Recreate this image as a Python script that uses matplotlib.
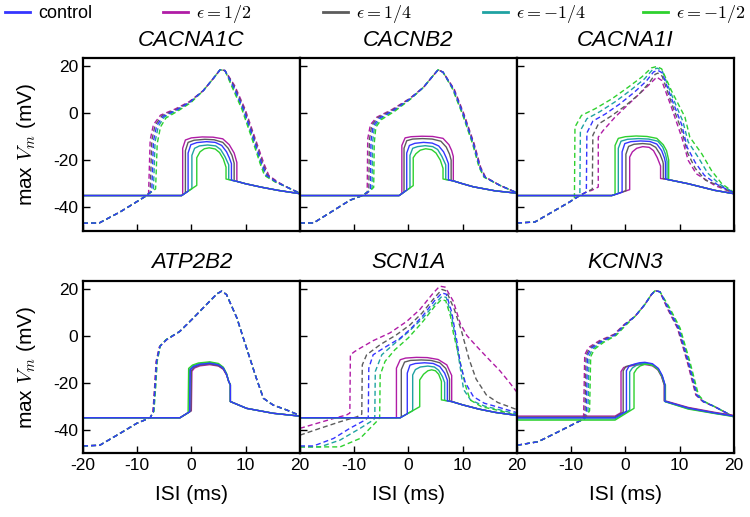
import numpy as np
import matplotlib.pyplot as plt

plt.rcParams['font.family'] = ['Liberation Sans', 'DejaVu Sans']
plt.rcParams['mathtext.fontset'] = 'cm'
plt.rcParams['axes.unicode_minus'] = False

# curve keys: control, eps=1/2, eps=1/4, eps=-1/4, eps=-1/2
keys = ['p12', 'p14', 'm14', 'm12', 'control']
colors = {'control': '#3535ff', 'p12': '#b01ca6', 'p14': '#5c5c5c',
          'm14': '#1fa2a2', 'm12': '#2ed12e'}
legend_labels = {'control': 'control', 'p12': r'$\epsilon=1/2$', 'p14': r'$\epsilon=1/4$',
                 'm14': r'$\epsilon=-1/4$', 'm12': r'$\epsilon=-1/2$'}
legend_order = ['control', 'p12', 'p14', 'm14', 'm12']

genes = ['CACNA1C', 'CACNB2', 'CACNA1I', 'ATP2B2', 'SCN1A', 'KCNN3']
xticks = [-20, -10, 0, 10, 20]
yticks = [-40, -20, 0, 20]

# ---- CACNA1C ----
cacna1c_solid = {
    'control': [(-20,-35),(-1.8,-35),(-0.6,-33.2),(-0.6,-17),(-0.1,-13.5),(1,-12.6),(2.8,-12.2),(4.4,-12.5),(5.6,-13.8),(6.5,-16.5),(7.0,-19),(7.4,-21.5),(7.4,-28.5),(8.4,-29),(10,-30),(13,-31.5),(16,-32.8),(20,-34.2)],
    'p12': [(-20,-35),(-1.8,-35),(-1.6,-34.7),(-1.6,-15),(-1.1,-11.5),(0,-10.6),(2,-10.2),(4,-10.3),(5.8,-11),(7.0,-13.5),(7.9,-17),(8.4,-21),(8.4,-29),(10,-30),(13,-31.5),(16,-32.8),(20,-34.2)],
    'p14': [(-20,-35),(-1.8,-35),(-1.1,-33.9),(-1.1,-16),(-0.6,-12.5),(0.5,-11.6),(2.5,-11.2),(4.2,-11.4),(5.8,-12.5),(6.8,-15),(7.5,-18),(7.9,-21.3),(7.9,-28.8),(8.4,-29),(10,-30),(13,-31.5),(16,-32.8),(20,-34.2)],
    'm14': [(-20,-35),(-1.8,-35),(0.1,-32.1),(0.1,-18),(0.6,-15),(1.5,-14),(3,-13.6),(4.5,-14),(5.4,-15.5),(6.2,-18.5),(6.9,-22),(6.9,-28.2),(7.4,-28.5),(8.4,-29),(10,-30),(13,-31.5),(16,-32.8),(20,-34.2)],
    'm12': [(-20,-35),(-1.8,-35),(1.0,-30.7),(1.0,-19),(1.6,-16.5),(2.4,-15.2),(3.3,-14.8),(4.4,-15.3),(5.2,-16.8),(5.9,-19.5),(6.4,-23),(6.4,-28),(7.4,-28.5),(8.4,-29),(10,-30),(13,-31.5),(16,-32.8),(20,-34.2)],
}
cacna1c_dashed = {
    'control': [(-20,-46.7),(-17,-46.6),(-13.2,-42),(-10.7,-38.5),(-8.6,-35.5),(-7.3,-33.2),(-7.0,-12),(-6.4,-5.4),(-5.2,-1.5),(-2.7,1.3),(-0.3,4.5),(2.2,9.4),(4.0,14.4),(5.3,18.2),(6.2,17.9),(7.7,11.5),(9.6,1.7),(11.4,-10.3),(13.0,-21.5),(13.9,-26.5),(15.7,-29.3),(17.6,-31.4),(20,-34)],
    'p12': [(-20,-46.7),(-17,-46.6),(-13.2,-42),(-10.7,-38.5),(-8.6,-35.5),(-7.9,-34.2),(-7.6,-11.5),(-7.0,-5),(-5.7,-1),(-3,1.6),(-0.4,4.7),(2.2,9.4),(4.0,14.4),(5.3,18.2),(6.2,17.9),(8.0,11.5),(9.9,1.7),(11.7,-10.3),(13.4,-21.5),(14.3,-26.5),(16,-29.3),(17.6,-31.4),(20,-34)],
    'p14': [(-20,-46.7),(-17,-46.6),(-13.2,-42),(-10.7,-38.5),(-8.6,-35.5),(-7.6,-33.7),(-7.3,-11.7),(-6.7,-5.2),(-5.4,-1.2),(-2.8,1.4),(-0.3,4.6),(2.2,9.4),(4.0,14.4),(5.3,18.2),(6.2,17.9),(7.85,11.5),(9.75,1.7),(11.55,-10.3),(13.2,-21.5),(14.1,-26.5),(15.8,-29.3),(17.6,-31.4),(20,-34)],
    'm14': [(-20,-46.7),(-17,-46.6),(-13.2,-42),(-10.7,-38.5),(-8.6,-35.5),(-7.0,-32.8),(-6.7,-12.3),(-6.1,-5.7),(-5.0,-1.8),(-2.6,1.1),(-0.2,4.4),(2.2,9.4),(4.0,14.4),(5.3,18.2),(6.2,17.9),(7.55,11.5),(9.45,1.7),(11.25,-10.3),(12.85,-21.5),(13.7,-26.5),(15.6,-29.3),(17.6,-31.4),(20,-34)],
    'm12': [(-20,-46.7),(-17,-46.6),(-13.2,-42),(-10.7,-38.5),(-8.6,-35.5),(-6.6,-32.2),(-6.3,-13),(-5.7,-6),(-4.7,-2.2),(-2.4,0.9),(-0.1,4.3),(2.2,9.4),(4.0,14.4),(5.3,18.2),(6.2,17.9),(7.4,11.5),(9.3,1.7),(11.1,-10.3),(12.7,-21.5),(13.5,-26.5),(15.5,-29.3),(17.6,-31.4),(20,-34)],
}

# ---- CACNB2 ----
cacnb2_solid = {
    'control': [(-20,-35),(-1.7,-35),(-0.3,-32.7),(-0.3,-17),(0.2,-13.8),(1.2,-12.9),(2.8,-12.5),(4.4,-12.8),(5.6,-14),(6.5,-16.5),(7.0,-19),(7.4,-21.5),(7.4,-28.4),(8.3,-28.8),(10,-30),(12,-31.3),(16,-33),(20,-34)],
    'p12': [(-20,-35),(-1.7,-35),(-1.2,-34.2),(-1.2,-13.8),(-0.6,-10.6),(0.5,-10.1),(2.5,-9.9),(4.5,-10),(6.4,-10.8),(7.5,-13.5),(8.0,-16),(8.3,-18.5),(8.3,-28.8),(10,-30),(12,-31.3),(16,-33),(20,-34)],
    'p14': [(-20,-35),(-1.7,-35),(-0.8,-33.5),(-0.8,-15),(-0.3,-11.8),(0.8,-11.1),(2.6,-10.9),(4.4,-11.1),(6.0,-12),(7.0,-14.5),(7.6,-17.5),(7.9,-20),(7.9,-28.6),(8.3,-28.8),(10,-30),(12,-31.3),(16,-33),(20,-34)],
    'm14': [(-20,-35),(-1.7,-35),(0.3,-31.8),(0.3,-18),(0.8,-15),(1.7,-14.3),(3.1,-13.9),(4.5,-14.3),(5.4,-15.5),(6.2,-18.5),(6.9,-22),(6.9,-28.2),(7.4,-28.4),(8.3,-28.8),(10,-30),(12,-31.3),(16,-33),(20,-34)],
    'm12': [(-20,-35),(-1.7,-35),(0.9,-30.8),(0.9,-19),(1.4,-17.3),(2.2,-15.8),(3.2,-15.2),(4.3,-15.6),(5.1,-17),(5.9,-20),(6.4,-23.5),(6.4,-28),(7.4,-28.4),(8.3,-28.8),(10,-30),(12,-31.3),(16,-33),(20,-34)],
}
cacnb2_dashed = {
    'control': [(-20,-46.6),(-17.5,-46.6),(-13.8,-41.3),(-10.8,-37),(-8.5,-35),(-7.0,-32.8),(-6.9,-12),(-6.5,-5.5),(-5.4,-2.3),(-2.8,1),(0.3,5.9),(2.8,10.8),(4.6,15.8),(5.5,18.2),(6.4,17.2),(8.3,10.1),(10.1,-0.4),(12.0,-13.1),(13.2,-23),(14.1,-27.2),(16.9,-30.7),(20,-33.8)],
    'p12': [(-20,-46.6),(-17.5,-46.6),(-13.8,-41.3),(-10.8,-37),(-8.5,-35),(-7.6,-34),(-7.5,-11),(-7.0,-5),(-5.8,-1.8),(-3.1,1.3),(0.2,6),(2.8,10.8),(4.6,15.8),(5.5,18.2),(6.4,17.2),(8.45,10.1),(10.25,-0.4),(12.15,-13.1),(13.35,-23),(14.25,-27.2),(16.9,-30.7),(20,-33.8)],
    'p14': [(-20,-46.6),(-17.5,-46.6),(-13.8,-41.3),(-10.8,-37),(-8.5,-35),(-7.3,-33.4),(-7.2,-11.5),(-6.75,-5.2),(-5.6,-2.0),(-2.95,1.15),(0.25,5.95),(2.8,10.8),(4.6,15.8),(5.5,18.2),(6.4,17.2),(8.37,10.1),(10.17,-0.4),(12.07,-13.1),(13.27,-23),(14.17,-27.2),(16.9,-30.7),(20,-33.8)],
    'm14': [(-20,-46.6),(-17.5,-46.6),(-13.8,-41.3),(-10.8,-37),(-8.5,-35),(-6.7,-32.2),(-6.6,-12.5),(-6.25,-5.8),(-5.2,-2.6),(-2.65,0.85),(0.35,5.85),(2.8,10.8),(4.6,15.8),(5.5,18.2),(6.4,17.2),(8.23,10.1),(10.03,-0.4),(11.93,-13.1),(13.13,-23),(14.03,-27.2),(16.9,-30.7),(20,-33.8)],
    'm12': [(-20,-46.6),(-17.5,-46.6),(-13.8,-41.3),(-10.8,-37),(-8.5,-35),(-6.4,-31.6),(-6.3,-13),(-6.0,-6.1),(-5.0,-2.9),(-2.5,0.7),(0.4,5.8),(2.8,10.8),(4.6,15.8),(5.5,18.2),(6.4,17.2),(8.15,10.1),(9.95,-0.4),(11.85,-13.1),(13.05,-23),(13.95,-27.2),(16.9,-30.7),(20,-33.8)],
}

# ---- CACNA1I ----
cacna1i_solid = {
    'm12': [(-20,-35),(-2.5,-35),(-1.9,-34.5),(-1.9,-13.8),(-1.3,-10.8),(0,-10.1),(2,-9.8),(4,-10),(5.8,-10.8),(7.0,-13.5),(7.6,-16),(8.0,-20),(8.0,-28.3),(11.6,-30),(16.5,-32.8),(20,-34.2)],
    'm14': [(-20,-35),(-2.5,-35),(-1.3,-34.1),(-1.3,-15),(-0.8,-12),(0.4,-11.2),(2.4,-10.9),(4.3,-11.1),(6.0,-12),(6.9,-14.5),(7.4,-17.5),(7.7,-20.5),(7.7,-28.2),(8,-28.3),(11.6,-30),(16.5,-32.8),(20,-34.2)],
    'control': [(-20,-35),(-2.5,-35),(-0.6,-33.6),(-0.6,-16.5),(-0.1,-13),(1,-12.2),(2.8,-11.9),(4.5,-12.1),(5.8,-13.2),(6.7,-16),(7.2,-19),(7.4,-21),(7.4,-28),(8,-28.3),(11.6,-30),(16.5,-32.8),(20,-34.2)],
    'p14': [(-20,-35),(-2.5,-35),(0.1,-33),(0.1,-17.5),(0.6,-14.2),(1.6,-13.3),(3.2,-13),(4.6,-13.3),(5.6,-14.6),(6.4,-17.5),(6.9,-20.5),(7.0,-21.5),(7.0,-27.9),(7.4,-28),(8,-28.3),(11.6,-30),(16.5,-32.8),(20,-34.2)],
    'p12': [(-20,-35),(-2.5,-35),(0.8,-32.5),(0.8,-18.7),(1.3,-16.5),(2.1,-15),(3.2,-14.3),(4.4,-14.6),(5.2,-16),(5.9,-19),(6.5,-22.5),(6.5,-27.8),(7.4,-28),(8,-28.3),(11.6,-30),(16.5,-32.8),(20,-34.2)],
}
cacna1i_dashed = {
    'm12': [(-20,-46.6),(-16.7,-46.2),(-13,-41.3),(-10.5,-38),(-9.4,-36.4),(-9.3,-6),(-8.1,-1.1),(-5.6,1.7),(-2.5,5.9),(0.5,10.8),(3.0,15.1),(4.8,19.0),(5.8,19.6),(6.7,18.6),(8.5,9.4),(11.0,-1.8),(11.9,-10.3),(14.1,-17.3),(15.9,-24.4),(17.8,-30),(20,-33.6)],
    'm14': [(-20,-46.6),(-16.7,-46.2),(-13,-41.3),(-10.5,-38),(-8.4,-35),(-8.3,-7.5),(-7.1,-2.5),(-4.7,0.5),(-1.8,4.8),(1.1,9.8),(3.5,14.3),(5.0,18.2),(5.9,18.9),(6.8,17.8),(8.5,7.8),(10.6,-3.5),(11.6,-12.3),(13.5,-19),(15.2,-25.5),(17.4,-30.2),(20,-33.7)],
    'control': [(-20,-46.6),(-16.7,-46.2),(-13,-41.3),(-10.5,-38),(-8.4,-35),(-7.2,-33.5),(-7.1,-8.5),(-6.0,-3.5),(-3.7,-0.5),(-1,3.8),(1.7,8.8),(3.9,13.5),(5.2,17.3),(6.0,18),(6.8,16.9),(8.5,6.2),(10.4,-5),(11.4,-14.5),(12.9,-21),(14.6,-26.5),(17,-30.4),(20,-33.8)],
    'p14': [(-20,-46.6),(-16.7,-46.2),(-13,-41.3),(-10.5,-38),(-8.4,-35),(-7.2,-33.5),(-6.1,-32.3),(-6.0,-9.5),(-5.0,-4.8),(-2.7,-1.5),(-0.1,2.8),(2.5,7.8),(4.4,12.7),(5.5,16.3),(6.0,16.8),(6.8,15.5),(8.5,4.3),(10.4,-7.5),(11.5,-17),(12.9,-23.5),(14.8,-28.5),(17,-30.6),(20,-33.9)],
    'p12': [(-20,-46.6),(-16.7,-46.2),(-13,-41.3),(-10.5,-38),(-8.4,-35),(-7.2,-33.5),(-6.2,-32.8),(-5.0,-31.4),(-5.0,-10.3),(-4.1,-7.5),(-1.9,-1.8),(1.2,5.0),(4.2,11.5),(5.8,15.1),(6.7,13.7),(8.5,2.4),(10.4,-10.3),(11.6,-20.1),(13.1,-25.8),(16.5,-30.7),(20,-34)],
}

# ---- ATP2B2 ----
atp2b2_solid = {
    'control': [(-20,-35),(-2.1,-35),(-0.3,-32.4),(-0.2,-14.6),(0.4,-13.2),(1.5,-12.3),(3.4,-11.8),(5.0,-12.5),(5.9,-13.9),(6.5,-16.5),(6.9,-19.6),(7.2,-21),(7.2,-28.1),(10.2,-31),(15.1,-33.1),(20,-34.3)],
    'p12': [(-20,-35),(-2.1,-35),(0.0,-32),(0.1,-15.2),(0.6,-13.8),(1.6,-12.9),(3.4,-12.4),(5.0,-13),(5.9,-14.4),(6.5,-16.8),(6.9,-19.6),(7.2,-21),(7.2,-28.1),(10.2,-31),(15.1,-33.1),(20,-34.3)],
    'p14': [(-20,-35),(-2.1,-35),(-0.1,-32.2),(0.0,-14.9),(0.5,-13.5),(1.5,-12.6),(3.4,-12.1),(5.0,-12.8),(5.9,-14.2),(6.5,-16.7),(6.9,-19.6),(7.2,-21),(7.2,-28.1),(10.2,-31),(15.1,-33.1),(20,-34.3)],
    'm14': [(-20,-35),(-2.1,-35),(-0.4,-32.6),(-0.3,-14.3),(0.3,-12.9),(1.4,-12),(3.4,-11.5),(5.0,-12.2),(5.9,-13.7),(6.5,-16.3),(6.9,-19.6),(7.2,-21),(7.2,-28.1),(10.2,-31),(15.1,-33.1),(20,-34.3)],
    'm12': [(-20,-35),(-2.1,-35),(-0.6,-32.9),(-0.5,-14),(0.2,-12.6),(1.3,-11.7),(3.4,-11.2),(5.0,-11.9),(5.9,-13.5),(6.5,-16.2),(6.9,-19.6),(7.2,-21),(7.2,-28.1),(10.2,-31),(15.1,-33.1),(20,-34.3)],
}
atp2b2_dashed = {
    'control': [(-20,-47),(-16.9,-46.7),(-13.2,-41.7),(-10.1,-37.4),(-7.6,-35),(-7.0,-32.4),(-6.7,-22.5),(-6.4,-11),(-5.8,-4.6),(-4.6,-1.8),(-2.1,1.8),(0.4,7.5),(2.8,13.2),(4.7,17.7),(5.6,18.9),(6.5,17.4),(8.4,7.5),(10.2,-5.4),(12.0,-18.2),(13.3,-26.7),(15.1,-29.6),(17.6,-31.7),(20,-34)],
    'p12': [(-20,-47),(-16.9,-46.7),(-13.2,-41.7),(-10.1,-37.4),(-7.6,-35),(-7.1,-32.6),(-6.8,-22.5),(-6.5,-11),(-5.9,-4.8),(-4.6,-1.9),(-2.1,1.8),(0.4,7.5),(2.8,13.2),(4.7,17.7),(5.6,18.9),(6.5,17.4),(8.4,7.5),(10.2,-5.4),(12.0,-18.2),(13.3,-26.7),(15.1,-29.6),(17.6,-31.7),(20,-34)],
    'p14': [(-20,-47),(-16.9,-46.7),(-13.2,-41.7),(-10.1,-37.4),(-7.6,-35),(-7.05,-32.5),(-6.75,-22.5),(-6.45,-11),(-5.85,-4.7),(-4.6,-1.8),(-2.1,1.8),(0.4,7.5),(2.8,13.2),(4.7,17.7),(5.6,18.9),(6.5,17.4),(8.4,7.5),(10.2,-5.4),(12.0,-18.2),(13.3,-26.7),(15.1,-29.6),(17.6,-31.7),(20,-34)],
    'm14': [(-20,-47),(-16.9,-46.7),(-13.2,-41.7),(-10.1,-37.4),(-7.6,-35),(-6.95,-32.3),(-6.65,-22.5),(-6.35,-11),(-5.75,-4.4),(-4.6,-1.7),(-2.1,1.8),(0.4,7.5),(2.8,13.2),(4.7,17.7),(5.6,18.9),(6.5,17.4),(8.4,7.5),(10.2,-5.4),(12.0,-18.2),(13.3,-26.7),(15.1,-29.6),(17.6,-31.7),(20,-34)],
    'm12': [(-20,-47),(-16.9,-46.7),(-13.2,-41.7),(-10.1,-37.4),(-7.6,-35),(-6.9,-32.2),(-6.6,-22.5),(-6.3,-11),(-5.7,-4.2),(-4.6,-1.6),(-2.1,1.8),(0.4,7.5),(2.8,13.2),(4.7,17.7),(5.6,18.9),(6.5,17.4),(8.4,7.5),(10.2,-5.4),(12.0,-18.2),(13.3,-26.7),(15.1,-29.6),(17.6,-31.7),(20,-34)],
}

# ---- SCN1A ----
scn1a_solid = {
    'p12': [(-20,-35),(-2.2,-35),(-2.2,-13.9),(-1.5,-10.3),(-0.5,-9.6),(1.5,-9.3),(3.5,-9.4),(5.5,-10.2),(7.1,-12.5),(7.7,-15.5),(8.0,-17),(8.0,-28.1),(10,-29.5),(13,-31.3),(16,-32.7),(20,-34)],
    'p14': [(-20,-35),(-1.5,-35),(-1.3,-34.7),(-1.3,-14.5),(-0.7,-11.3),(0.4,-10.6),(2.4,-10.4),(4.2,-10.6),(5.8,-11.6),(6.9,-14),(7.4,-17),(7.6,-18.5),(7.6,-28),(8.0,-28.1),(10,-29.5),(13,-31.3),(16,-32.7),(20,-34)],
    'control': [(-20,-35),(-1.5,-35),(-0.2,-33.3),(-0.2,-16),(0.3,-12.6),(1.3,-11.9),(3.0,-11.6),(4.6,-11.9),(5.8,-13.2),(6.7,-16),(7.2,-19),(7.2,-27.8),(8,-28.1),(10,-29.5),(13,-31.3),(16,-32.7),(20,-34)],
    'm14': [(-20,-35),(-1.5,-35),(0.8,-32),(0.8,-16.8),(1.3,-14.5),(2.2,-13.4),(3.6,-13),(4.8,-13.4),(5.6,-14.8),(6.3,-17.5),(6.7,-20),(6.7,-27.6),(7.2,-27.8),(8,-28.1),(10,-29.5),(13,-31.3),(16,-32.7),(20,-34)],
    'm12': [(-20,-35),(-1.5,-35),(2.1,-30.3),(2.1,-18.9),(2.8,-16.5),(3.6,-15),(4.3,-14.6),(5.0,-15),(5.6,-16.5),(6.1,-19.5),(6.1,-27.4),(7.2,-27.8),(8,-28.1),(10,-29.5),(13,-31.3),(16,-32.7),(20,-34)],
}
scn1a_dashed = {
    'p12': [(-20,-39.5),(-16.9,-37.4),(-13.8,-35.3),(-11.4,-33.8),(-10.8,-33),(-10.7,-8.2),(-9.9,-6.8),(-8.9,-5.4),(-6.5,-2.2),(-3.4,1.1),(-0.3,6),(2.1,11),(4.6,18.1),(5.8,21),(6.8,20.6),(8.3,14.6),(9.6,5),(10.8,0),(12.6,-4.6),(14.4,-9),(16.9,-15),(18.5,-19.5),(20,-24)],
    'p14': [(-20,-42.4),(-16.3,-39.5),(-12.6,-36.7),(-9.5,-34.6),(-8.6,-33.5),(-8.5,-12.5),(-7.7,-8.2),(-5.2,-3.9),(-2.2,0.3),(0.3,4.5),(2.5,9.5),(4.8,16),(6.2,19.6),(7.0,19),(8.5,11),(9.8,2),(11.2,-10),(12.5,-18.5),(14.4,-25.3),(16.5,-28.5),(20,-31.5)],
    'control': [(-20,-47),(-17.5,-47),(-13.8,-43.8),(-10.8,-39.5),(-8,-36),(-7.4,-34.8),(-7.3,-13.9),(-6.5,-8.2),(-4.6,-5.4),(-1.5,-1.1),(0.5,3),(2.7,8.5),(4.9,15),(6.2,18.1),(7.0,17.6),(8.0,10),(9.0,-3),(9.6,-12),(10.5,-20),(12,-26),(14,-28.8),(16.3,-30.3),(20,-32.8)],
    'm14': [(-20,-47.4),(-16.3,-47.4),(-12.6,-44.5),(-8.9,-39.5),(-6.5,-36),(-6.2,-35.2),(-6.1,-15.3),(-4.9,-8.2),(-2.8,-3.9),(0,1.5),(2.7,7.5),(4.9,13.5),(6.2,16.7),(7.0,16.2),(8.0,8),(9.0,-5),(10.2,-23),(11.5,-27.5),(14,-30),(17,-31.7),(20,-33.4)],
    'm12': [(-20,-47.4),(-12.6,-47.4),(-8.9,-43.8),(-5.9,-36.7),(-5.3,-35),(-5.2,-16.8),(-4.3,-11),(-2.5,-6.1),(0,-1),(2.7,6),(4.9,12.5),(6.1,15.3),(6.9,14.8),(7.8,8),(8.3,1.1),(9.6,-11.6),(10.5,-21),(11.4,-27.4),(13.5,-30.3),(16.3,-31.7),(20,-34)],
}

# ---- KCNN3 ----
kcnn3_solid = {
    'p12': [(-20,-34.3),(-1.9,-34.3),(-0.8,-32.8),(-0.8,-15.3),(-0.3,-13.6),(0.8,-13),(2.2,-12.5),(3.6,-12.3),(5.0,-12.9),(6.0,-14.6),(6.7,-17.5),(7.1,-20.5),(7.2,-21),(7.2,-27.7),(11.6,-30.6),(16.5,-32.7),(20,-34)],
    'p14': [(-20,-34.7),(-1.9,-34.7),(-0.4,-32.6),(-0.4,-15),(0.1,-13.2),(1.1,-12.6),(2.4,-12.1),(3.6,-12),(5.0,-12.6),(6.0,-14.4),(6.7,-17.3),(7.1,-20.3),(7.2,-21),(7.2,-27.9),(11.6,-30.8),(16.5,-32.9),(20,-34.2)],
    'control': [(-20,-35),(-1.9,-35),(0.2,-32.2),(0.2,-15),(0.7,-13),(1.6,-12.2),(2.6,-11.6),(3.6,-11.4),(5.0,-12),(6.1,-14),(6.8,-17),(7.2,-20),(7.3,-21),(7.3,-28),(11.6,-30.9),(16.5,-33),(20,-34.3)],
    'm14': [(-20,-35.5),(-1.9,-35.5),(0.8,-31.7),(0.8,-15.5),(1.3,-13.8),(2.1,-12.6),(2.9,-12),(3.8,-11.8),(5.0,-12.4),(6.1,-14.3),(6.8,-17.2),(7.2,-20.2),(7.3,-21),(7.3,-28.1),(11.6,-31.1),(16.5,-33.1),(20,-34.4)],
    'm12': [(-20,-36),(-1.9,-36),(1.6,-31),(1.6,-16),(2.1,-14.2),(2.7,-13),(3.5,-12.3),(4.3,-12.3),(5.2,-12.9),(6.1,-14.6),(6.8,-17.5),(7.2,-20.5),(7.4,-21),(7.4,-28.2),(11.6,-31.3),(16.5,-33.2),(20,-34.5)],
}
kcnn3_dashed = {
    'control': [(-20,-46.7),(-16.1,-45.2),(-12.4,-41),(-9.3,-37.4),(-7.5,-35.3),(-7.2,-33),(-7.0,-8.5),(-6.3,-5.4),(-4.4,-2.5),(-1.9,0.3),(-0.1,4.6),(1.8,8.2),(3.6,13.2),(4.8,17.4),(5.5,19.1),(6.4,18.6),(7.9,11.7),(9.8,3.2),(11.6,-11),(13.2,-25.3),(14.4,-28.1),(16.5,-30.3),(20,-34.6)],
    'p12': [(-20,-46.7),(-16.1,-45.2),(-12.4,-41),(-9.3,-37.4),(-7.9,-35.8),(-7.7,-33.8),(-7.5,-8.2),(-6.8,-5.1),(-4.8,-2.2),(-2.1,0.5),(-0.2,4.7),(1.8,8.2),(3.6,13.2),(4.8,17.4),(5.5,19.1),(6.4,18.6),(7.7,11.7),(9.6,3.2),(11.4,-11),(13.0,-25.3),(14.3,-28.1),(16.5,-30.3),(20,-34.6)],
    'p14': [(-20,-46.7),(-16.1,-45.2),(-12.4,-41),(-9.3,-37.4),(-7.7,-35.5),(-7.45,-33.4),(-7.25,-8.4),(-6.55,-5.3),(-4.6,-2.4),(-2.0,0.4),(-0.15,4.65),(1.8,8.2),(3.6,13.2),(4.8,17.4),(5.5,19.1),(6.4,18.6),(7.8,11.7),(9.7,3.2),(11.5,-11),(13.1,-25.3),(14.35,-28.1),(16.5,-30.3),(20,-34.6)],
    'm14': [(-20,-46.7),(-16.1,-45.2),(-12.4,-41),(-9.3,-37.4),(-7.5,-35.3),(-6.9,-32.5),(-6.7,-8.8),(-6.0,-5.6),(-4.2,-2.7),(-1.8,0.2),(0.0,4.5),(1.8,8.2),(3.6,13.2),(4.8,17.4),(5.5,19.1),(6.4,18.6),(8.05,11.7),(9.95,3.2),(11.75,-11),(13.35,-25.3),(14.5,-28.1),(16.5,-30.3),(20,-34.6)],
    'm12': [(-20,-46.7),(-16.1,-45.2),(-12.4,-41),(-9.3,-37.4),(-7.5,-35.3),(-6.6,-32),(-6.4,-9),(-5.7,-5.8),(-4.0,-2.9),(-1.7,0.1),(0.1,4.4),(1.8,8.2),(3.6,13.2),(4.8,17.4),(5.5,19.1),(6.4,18.6),(8.2,11.7),(10.1,3.2),(11.9,-11),(13.5,-25.3),(14.6,-28.1),(16.5,-30.3),(20,-34.6)],
}

solid_sets = [cacna1c_solid, cacnb2_solid, cacna1i_solid, atp2b2_solid, scn1a_solid, kcnn3_solid]
dashed_sets = [cacna1c_dashed, cacnb2_dashed, cacna1i_dashed, atp2b2_dashed, scn1a_dashed, kcnn3_dashed]

W, H = 750, 517
fig = plt.figure(figsize=(W / 100, H / 100), dpi=100)

col_left = [83, 300, 517]
col_w = 216.7
row_top = [58, 281]
row_h = [173, 172]

for i, gene in enumerate(genes):
    r, c = divmod(i, 3)
    ax = fig.add_axes([col_left[c] / W, 1 - (row_top[r] + row_h[r]) / H, col_w / W, row_h[r] / H])
    for k in keys:
        x, y = zip(*dashed_sets[i][k])
        ax.plot(x, y, color=colors[k], lw=1.0, ls=(0, (3.6, 2.2)))
    for k in keys:
        x, y = zip(*solid_sets[i][k])
        ax.plot(x, y, color=colors[k], lw=1.0)
    ax.set_xlim(-20, 20)
    ax.set_ylim(-50, 23.2)
    ax.set_xticks(xticks)
    ax.set_yticks(yticks)
    ax.tick_params(direction='in', length=5, width=1, labelsize=12.5, top=False, right=False)
    for s in ax.spines.values():
        s.set_linewidth(1.6)
    ax.set_title(gene, fontsize=16, style='italic', pad=9)
    if c == 0:
        ax.set_ylabel('max $V_m$ (mV)', fontsize=15, labelpad=11)
    else:
        ax.set_yticklabels([])
    if r == 1:
        ax.set_xlabel('ISI (ms)', fontsize=15, labelpad=9)
        if c > 0:
            ax.set_xticklabels([''] + [str(t) for t in xticks[1:]])
    else:
        ax.set_xticklabels([])

leg_x = [5, 163, 323, 483, 643]
for k, lx in zip(legend_order, leg_x):
    h, = plt.plot([], [], color=colors[k], lw=2)
    fig.legend([h], [legend_labels[k]], loc='center left', bbox_to_anchor=(lx / W, 1 - 14 / H),
               frameon=False, fontsize=13, borderpad=0, borderaxespad=0,
               handlelength=1.4, handletextpad=0.45)

fig.savefig('out.png', dpi=100)
